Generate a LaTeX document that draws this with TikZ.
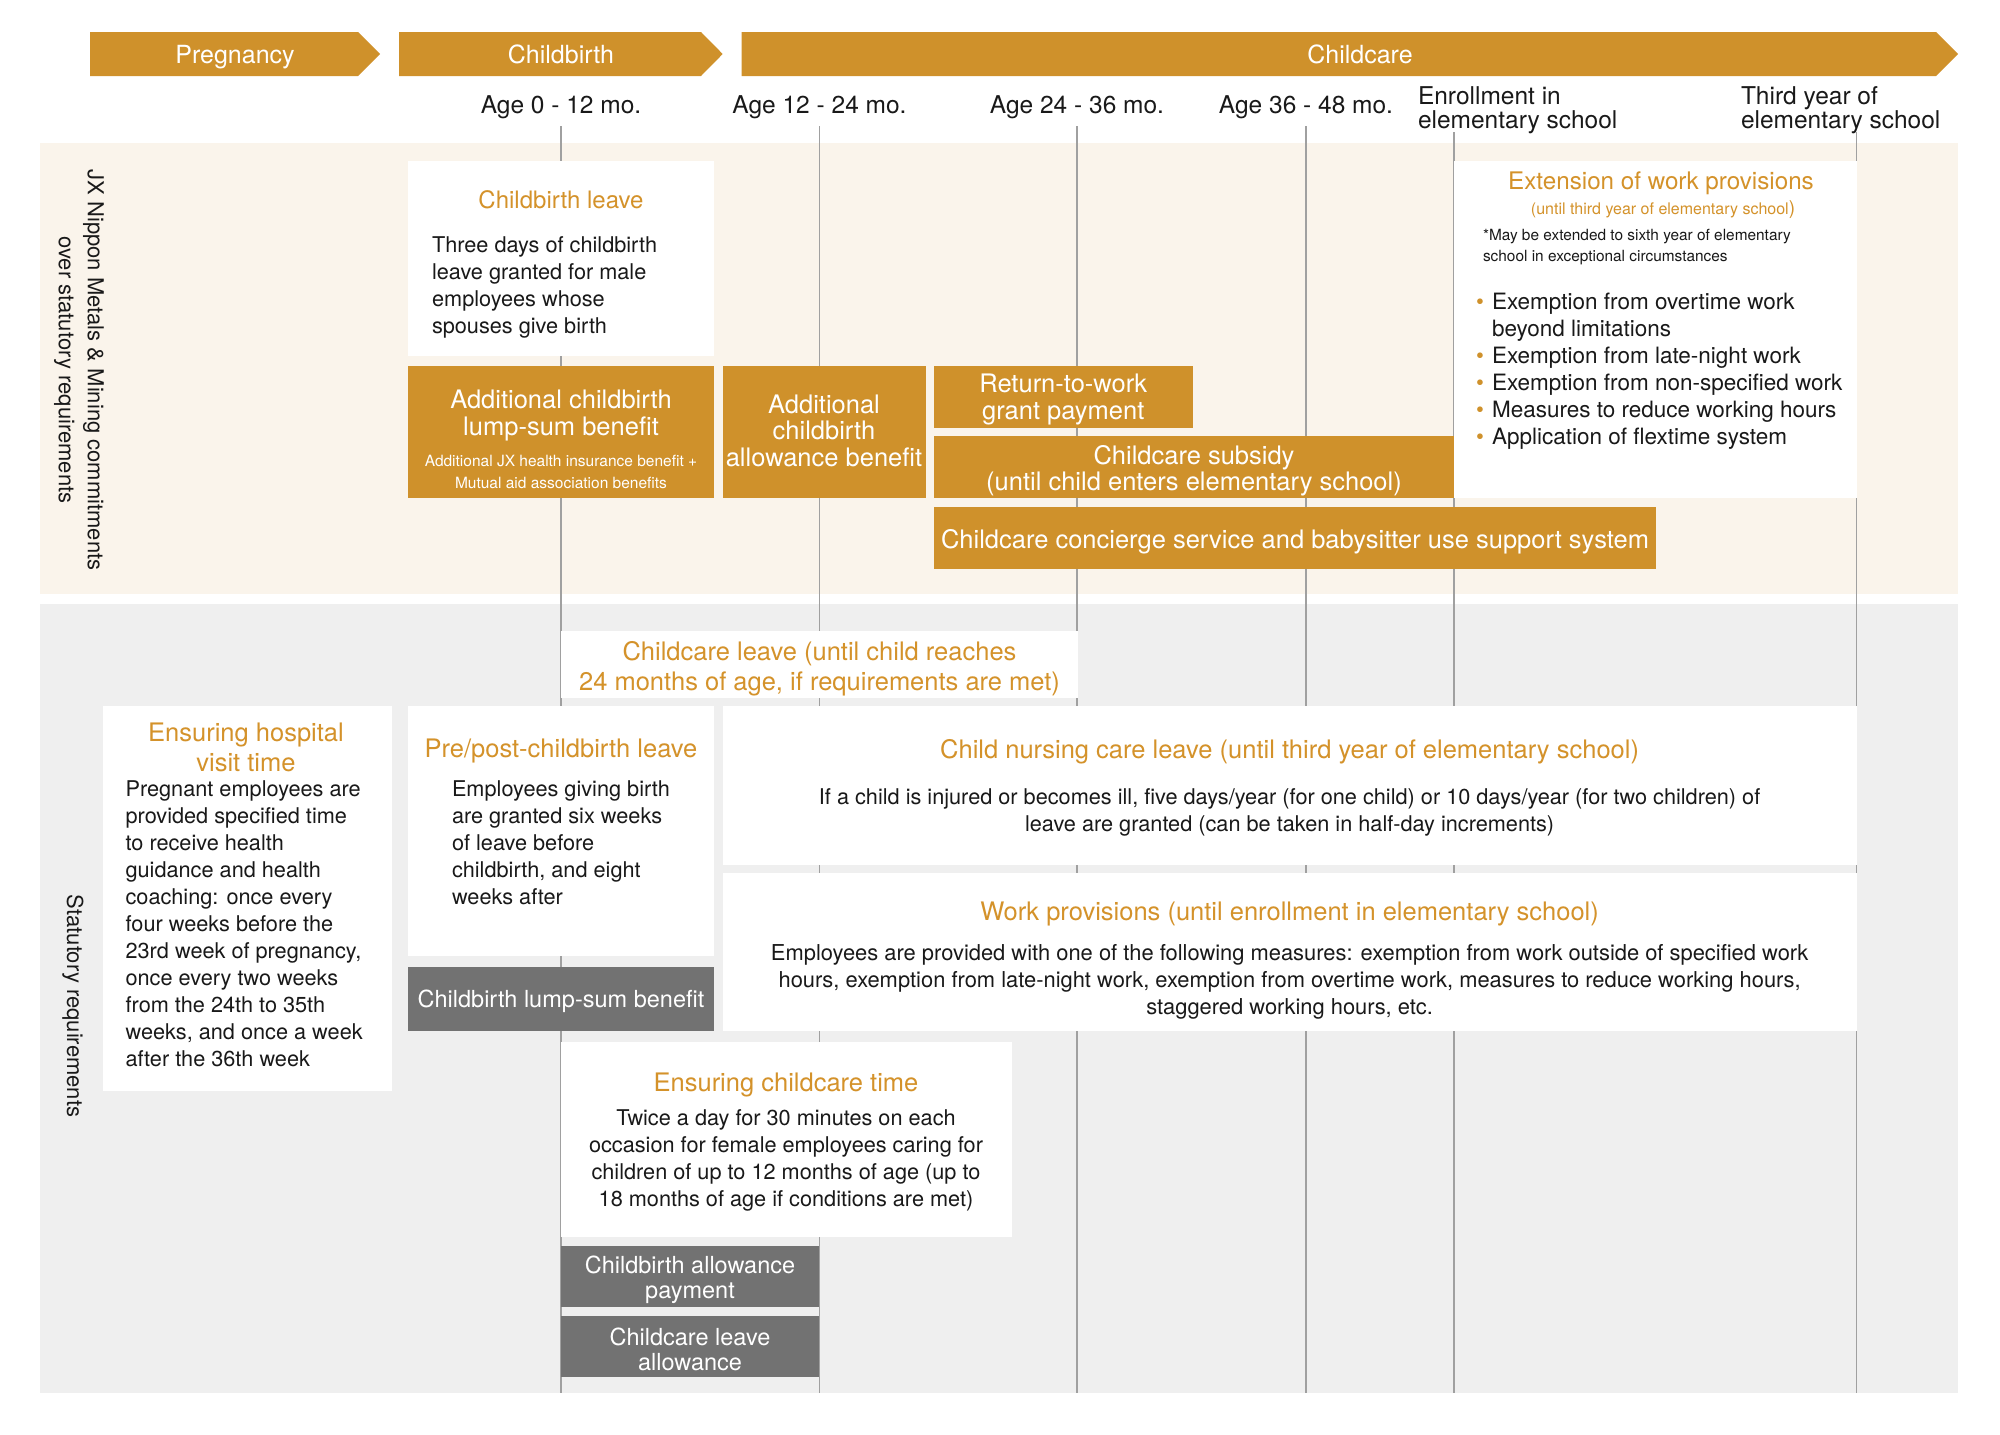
\documentclass[tikz,border=0pt]{standalone}
\usepackage{fontspec}
\setmainfont{TeX Gyre Heros}
\definecolor{jxorange}{RGB}{207,145,43}
\definecolor{jxtitle}{RGB}{212,146,42}
\definecolor{jxbeige}{RGB}{250,244,235}
\definecolor{jxgray}{RGB}{239,239,239}
\definecolor{jxdark}{RGB}{114,114,114}
\definecolor{jxline}{RGB}{160,160,160}
\definecolor{jxtext}{RGB}{25,25,25}
\begin{document}
\begin{tikzpicture}[x=1pt, y=-1pt,
		every node/.style={inner sep=0pt, outer sep=0pt, text=jxtext},
		phase/.style={fill=jxorange},
		phasetext/.style={text=white, text height=18.5, text depth=0, font=\fontsize{25}{27}\selectfont},
		agelabel/.style={align=left, font=\fontsize{24.5}{24}\selectfont},
		panel/.style={anchor=north west, fill=white},
		obox/.style={anchor=north west, fill=jxorange},
		gbox/.style={anchor=north west, fill=jxdark},
		otext/.style={text=white, align=center, font=\fontsize{25.5}{26.5}\selectfont},
		gtext/.style={text=white, align=center, font=\fontsize{23.5}{25}\selectfont},
		boxtitle/.style={text=jxtitle, align=center, font=\fontsize{25.5}{30}\selectfont},
		boxbody/.style={align=left, font=\fontsize{21.7}{27}\selectfont},
		sidelabel/.style={rotate=-90, align=center, font=\fontsize{22}{29}\selectfont},
		gridline/.style={draw=jxline, line width=1.3pt},
	]
	\useasboundingbox (0,0) rectangle (2000,1435);

	\fill[jxbeige] (40,143) rectangle (1958,594);
	\fill[jxgray]  (40,604) rectangle (1958,1393);

	\fill[phase] (90,32)    -- (358,32)  -- (380,54)  -- (358,76)  -- (90,76)    -- cycle;
	\fill[phase] (399,32)   -- (701,32)  -- (722.7,54) -- (701,76) -- (399,76)   -- cycle;
	\fill[phase] (741.7,32) -- (1936,32) -- (1958,54) -- (1936,76) -- (741.7,76) -- cycle;
	\node[phasetext] (pregnancy)  at (235,54)  {Pregnancy};
	\node[phasetext] (childbirth) at (561,54)  {Childbirth};
	\node[phasetext] (childcare)  at (1360,54) {Childcare};

	\node[agelabel] (age0)  at (561,107.5)   {Age 0 - 12 mo.};
	\node[agelabel] (age12) at (819.5,107.5) {Age 12 - 24 mo.};
	\node[agelabel] (age24) at (1077,107.5)  {Age 24 - 36 mo.};
	\node[agelabel] (age36) at (1306,107.5)  {Age 36 - 48 mo.};
	\node[agelabel, anchor=west] (enroll) at (1418,110) {Enrollment in\\elementary school};
	\node[agelabel, anchor=west] (third)  at (1741,110) {Third year of\\elementary school};

	\foreach \gx/\gy in {561/126, 819.5/126, 1077/126, 1306/126, 1454/132, 1856.5/132}
		\draw[gridline] (\gx,\gy) -- (\gx,1393);

	\node[sidelabel] (jxside)   at (79,370)  {JX Nippon Metals \& Mining commitments\\over statutory requirements};
	\node[sidelabel] (statside) at (73,1006) {Statutory requirements};

	\node[panel, minimum width=306, minimum height=195] (cbleave) at (408,161) {};
	\node[boxtitle, font=\fontsize{24}{27}\selectfont] (cbleavet) at (561,199.5) {Childbirth leave};
	\node[boxbody, anchor=west] (cbleaveb) at (432,287) {Three days of childbirth\\leave granted for male\\employees whose\\spouses give birth};

	\node[obox, minimum width=306, minimum height=131.5] (addlump) at (408,366) {};
	\node[otext, font=\fontsize{25.5}{27}\selectfont] (addlumpt) at (561,415) {Additional childbirth\\lump-sum benefit};
	\node[otext, font=\fontsize{15.5}{22}\selectfont] (addlumps) at (561,471.5) {Additional JX health insurance benefit +\\Mutual aid association benefits};

	\node[obox, minimum width=203, minimum height=131.5] (addallow)  at (722.5,366) {};
	\node[obox, minimum width=258.5, minimum height=62] (rtw)        at (934,366)   {};
	\node[obox, minimum width=520, minimum height=61.5] (subsidy)    at (934,436)   {};
	\node[obox, minimum width=722, minimum height=61.5] (concierge)  at (934,507)   {};
	\node[otext] (addallowt)  at ([yshift=1.3pt]addallow.center)   {Additional\\childbirth\\allowance benefit};
	\node[otext] (rtwt)       at ([yshift=-2.5pt]rtw.center)       {Return-to-work\\grant payment};
	\node[otext] (subsidyt)   at ([yshift=-3.8pt]subsidy.center)   {Childcare subsidy\\(until child enters elementary school)};
	\node[otext] (concierget) at ([yshift=-3.6pt]concierge.center) {Childcare concierge service and babysitter use support system};

	\node[panel, minimum width=402.5, minimum height=336.5] (extension) at (1454,161) {};
	\node[boxtitle, font=\fontsize{24.2}{27}\selectfont] (extt) at (1661,183) {Extension of work provisions};
	\node[boxtitle, font=\fontsize{16}{20}\selectfont] (exts) at (1663,209.5) {(until third year of elementary school{\fontsize{19}{20}\selectfont)}};
	\node[boxbody, font=\fontsize{15.4}{21.6}\selectfont, anchor=west] (extn) at (1483,247) {*May be extended to sixth year of elementary\\school in exceptional circumstances};
	\node[boxbody, font=\fontsize{22.5}{27}\selectfont, anchor=west] (extb) at (1476,371) {%
		\makebox[16pt][l]{\textcolor{jxorange}{•}}Exemption from overtime work\\
		\hspace*{16pt}beyond limitations\\
		\makebox[16pt][l]{\textcolor{jxorange}{•}}Exemption from late-night work\\
		\makebox[16pt][l]{\textcolor{jxorange}{•}}Exemption from non-specified work\\
		\makebox[16pt][l]{\textcolor{jxorange}{•}}Measures to reduce working hours\\
		\makebox[16pt][l]{\textcolor{jxorange}{•}}Application of flextime system};

	\node[panel, minimum width=517, minimum height=67.5] (ccleave) at (561,630.7) {};
	\node[boxtitle] (ccleavet) at ([yshift=-3.8pt]ccleave.center) {Childcare leave (until child reaches\\24 months of age, if requirements are met)};

	\node[panel, minimum width=289, minimum height=384.6] (hospital) at (103,706) {};
	\node[boxtitle] (hospitalt) at (246,747.7) {Ensuring hospital\\visit time};
	\node[boxbody, anchor=west] (hospitalb) at (125.6,924) {Pregnant employees are\\provided specified time\\to receive health\\guidance and health\\coaching: once every\\four weeks before the\\23rd week of pregnancy,\\once every two weeks\\from the 24th to 35th\\weeks, and once a week\\after the 36th week};

	\node[panel, minimum width=306, minimum height=249.7] (prepost) at (408,706) {};
	\node[boxtitle] (prepostt) at (561,751.3) {Pre/post-childbirth leave};
	\node[boxbody, anchor=west] (prepostb) at (452,843.2) {Employees giving birth\\are granted six weeks\\of leave before\\childbirth, and eight\\weeks after};
	\node[gbox, minimum width=306, minimum height=64.6] (lumpsum) at (408,966.7) {};
	\node[gtext] (lumpsumt) at ([yshift=-2.5pt]lumpsum.center) {Childbirth lump-sum benefit};

	\node[panel, minimum width=1134, minimum height=159] (nursing) at (722.6,706) {};
	\node[boxtitle] (nursingt) at (1289.6,751.3) {Child nursing care leave (until third year of elementary school)};
	\node[boxbody, align=center] (nursingb) at (1289.6,812.8) {If a child is injured or becomes ill, five days/year (for one child) or 10 days/year (for two children) of\\leave are granted (can be taken in half-day increments)};

	\node[panel, minimum width=1134, minimum height=158.3] (workprov) at (722.6,872.7) {};
	\node[boxtitle] (workprovt) at (1289.6,913.5) {Work provisions (until enrollment in elementary school)};
	\node[boxbody, align=center, font=\fontsize{21.9}{27}\selectfont] (workprovb) at (1289.6,981.5) {Employees are provided with one of the following measures: exemption from work outside of specified work\\hours, exemption from late-night work, exemption from overtime work, measures to reduce working hours,\\staggered working hours, etc.};

	\node[panel, minimum width=450.5, minimum height=195.3] (cctime) at (561,1042) {};
	\node[boxtitle] (cctimet) at (786,1084.8) {Ensuring childcare time};
	\node[boxbody, align=center] (cctimeb) at (786,1160.2) {Twice a day for 30 minutes on each\\occasion for female employees caring for\\children of up to 12 months of age (up to\\18 months of age if conditions are met)};

	\node[gbox, minimum width=258, minimum height=61.3] (cballow) at (561,1246) {};
	\node[gbox, minimum width=258, minimum height=61.3] (ccallow) at (561,1316) {};
	\node[gtext] (cballowt) at ([yshift=-3pt]cballow.center)   {Childbirth allowance\\payment};
	\node[gtext] (ccallowt) at ([yshift=-2.5pt]ccallow.center) {Childcare leave\\allowance};
\end{tikzpicture}
\end{document}
